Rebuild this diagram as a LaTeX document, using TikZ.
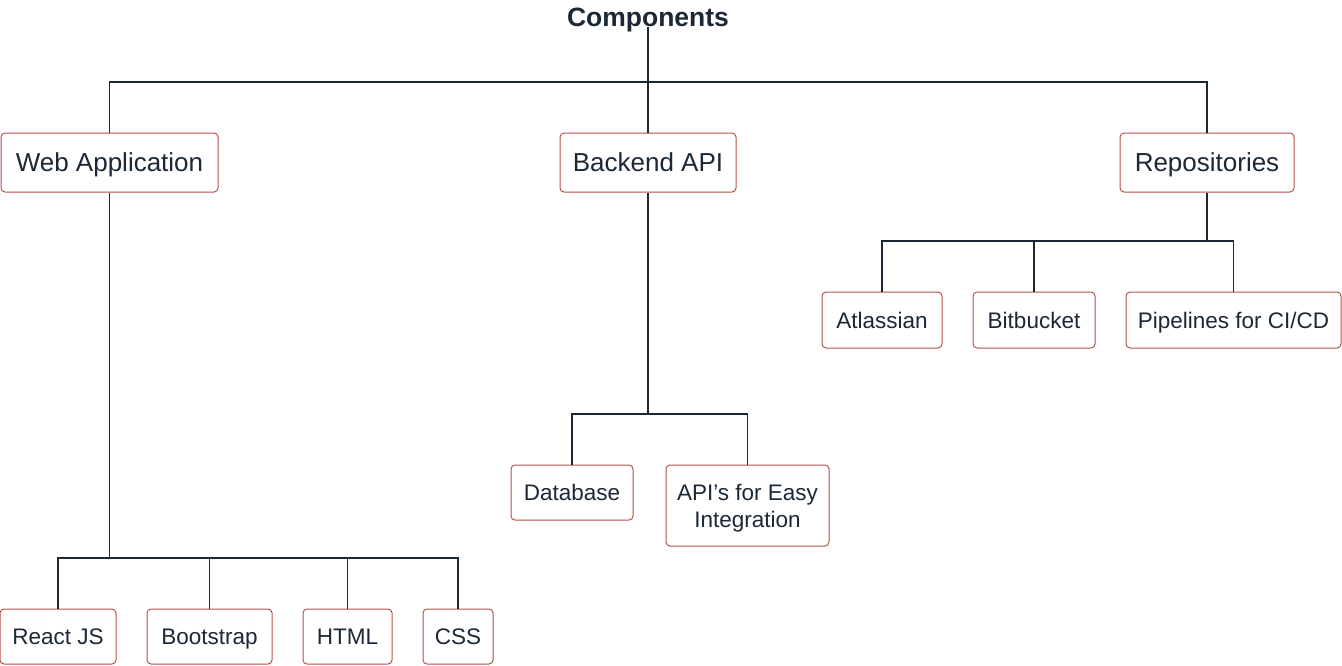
\documentclass[tikz,border=0pt]{standalone}
\usepackage{fontspec}
\setmainfont{Liberation Sans}
\usetikzlibrary{positioning}
\definecolor{boxred}{HTML}{B5524B}
\definecolor{inkdark}{HTML}{1C2836}
\tikzset{
  box/.style={draw=boxred, line width=1pt, rounded corners=4pt, fill=white,
    text=inkdark, inner sep=0pt, align=center},
  bigbox/.style={box, text height=18.6pt, text depth=0pt, minimum height=59, font=\fontsize{26}{31}\selectfont},
  smallbox/.style={box, minimum height=56, font=\fontsize{22.5}{27}\selectfont},
  oneline/.style={text height=16.1pt, text depth=0pt},
  link/.style={draw=inkdark, line width=1.1pt}
}

\begin{document}
\begin{tikzpicture}[x=1pt, y=-1pt]
  %%%%% START %%%%%
  \useasboundingbox (0,0) rectangle (1342,665);

  \node[text=inkdark, font=\fontsize{26.5}{31}\selectfont\bfseries, text height=19pt, text depth=0pt, inner sep=0pt] (title) at (648,17) {Components};

  \node[bigbox, minimum width=217] (web) at (109.5,162.5) {Web Application};
  \node[bigbox, minimum width=176] (backend) at (648,162.5) {Backend API};
  \node[bigbox, minimum width=174] (repo) at (1207,162.5) {Repositories};

  \node[smallbox, oneline, minimum width=120] (atlassian) at (882,320) {Atlassian};
  \node[smallbox, oneline, minimum width=122] (bitbucket) at (1034,320) {Bitbucket};
  \node[smallbox, oneline, minimum width=215] (pipelines) at (1233.5,320) {Pipelines for CI/CD};

  \node[smallbox, oneline, minimum width=122, minimum height=55] (database) at (572,492.5) {Database};
  \node[smallbox, text height=43.1pt, text depth=0pt, minimum width=163, minimum height=81] (apis) at (747.5,505.5) {API’s for Easy\\Integration};

  \node[smallbox, oneline, minimum width=116, minimum height=55] (react) at (58,636.5) {React JS};
  \node[smallbox, oneline, minimum width=125, minimum height=55] (bootstrap) at (209.5,636.5) {Bootstrap};
  \node[smallbox, oneline, minimum width=89, minimum height=55] (html) at (347.5,636.5) {HTML};
  \node[smallbox, oneline, minimum width=70, minimum height=55] (css) at (458,636.5) {CSS};

  % junctions of the buses
  \coordinate (topbus) at (648,82);
  \coordinate (repobus) at (1207,241);
  \coordinate (backbus) at (648,414);
  \coordinate (webbus) at (109.5,558);

  % top level
  \draw[link] (title) -- (topbus);
  \draw[link] (web.north) |- (topbus);
  \draw[link] (backend.north) -- (topbus);
  \draw[link] (repo.north) |- (topbus);

  % repositories
  \draw[link] (repo.south) -- (repobus);
  \draw[link] (atlassian.north) |- (repobus);
  \draw[link] (bitbucket.north) |- (repobus);
  \draw[link] (pipelines.north) |- (repobus);

  % backend
  \draw[link] (backend.south) -- (backbus);
  \draw[link] (database.north) |- (backbus);
  \draw[link] (apis.north) |- (backbus);

  % web application
  \draw[link] (web.south) -- (webbus);
  \draw[link] (react.north) |- (webbus);
  \draw[link] (bootstrap.north) |- (webbus);
  \draw[link] (html.north) |- (webbus);
  \draw[link] (css.north) |- (webbus);
  %%%%% END %%%%%
\end{tikzpicture}
\end{document}
